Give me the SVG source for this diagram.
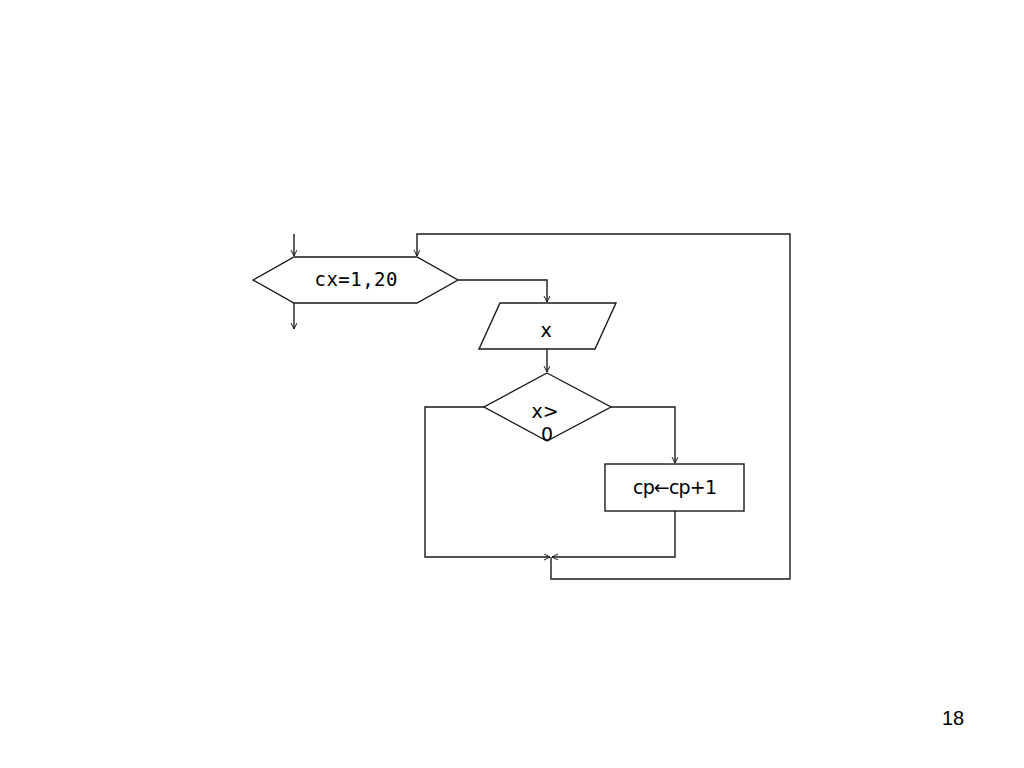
<svg xmlns="http://www.w3.org/2000/svg" width="1024" height="768" viewBox="0 0 1024 768">
<style>
.s{fill:#fff;stroke:#1a1a1a;stroke-width:1.4}
.c{fill:none;stroke:#1a1a1a;stroke-width:1.4}
.t{font-family:"DejaVu Sans",sans-serif;font-size:19px;fill:#000;text-anchor:middle}
.m{font-family:"DejaVu Sans Mono",monospace;font-size:19px;fill:#000;text-anchor:middle}
</style>
<defs>
<marker id="a" markerWidth="8" markerHeight="8" refX="6" refY="3" orient="auto" markerUnits="userSpaceOnUse">
<path d="M0,0 L6,3 L0,6" fill="none" stroke="#1a1a1a" stroke-width="1"/>
</marker>
</defs>
<rect width="1024" height="768" fill="#fff"/>
<g id="connectors">
<path class="c" d="M294,234 V256" marker-end="url(#a)"/>
<path class="c" d="M294,303 V329" marker-end="url(#a)"/>
<path class="c" d="M458,280 H547 V302" marker-end="url(#a)"/>
<path class="c" d="M547,349 V372" marker-end="url(#a)"/>
<path class="c" d="M611,407 H675 V463" marker-end="url(#a)"/>
<path class="c" d="M675,511 V557 H552" marker-end="url(#a)"/>
<path class="c" d="M484,407 H425 V557 H550" marker-end="url(#a)"/>
<path class="c" d="M551,557 V579 H790 V234 H417 V256" marker-end="url(#a)"/>
</g>
<g id="loop">
<polygon class="s" points="253,280 294,257 417,257 458,280 417,303 294,303"/>
<text class="m" x="356" y="286" textLength="83">cx=1,20</text>
</g>
<g id="input">
<polygon class="s" points="500,303 616,303 595,349 479,349"/>
<text class="t" x="546" y="337">x</text>
</g>
<g id="decision">
<polygon class="s" points="547,373 611,407 547,441 484,407"/>
<text class="t" x="545" y="418">x&gt;</text>
<text class="t" x="547" y="441">0</text>
</g>
<g id="process">
<rect class="s" x="605" y="464" width="139" height="47"/>
<text class="t" x="675" y="494" textLength="84">cp←cp+1</text>
</g>
<text x="953" y="725" font-family="Liberation Sans, sans-serif" font-size="20" text-anchor="middle" fill="#000">18</text>
</svg>
